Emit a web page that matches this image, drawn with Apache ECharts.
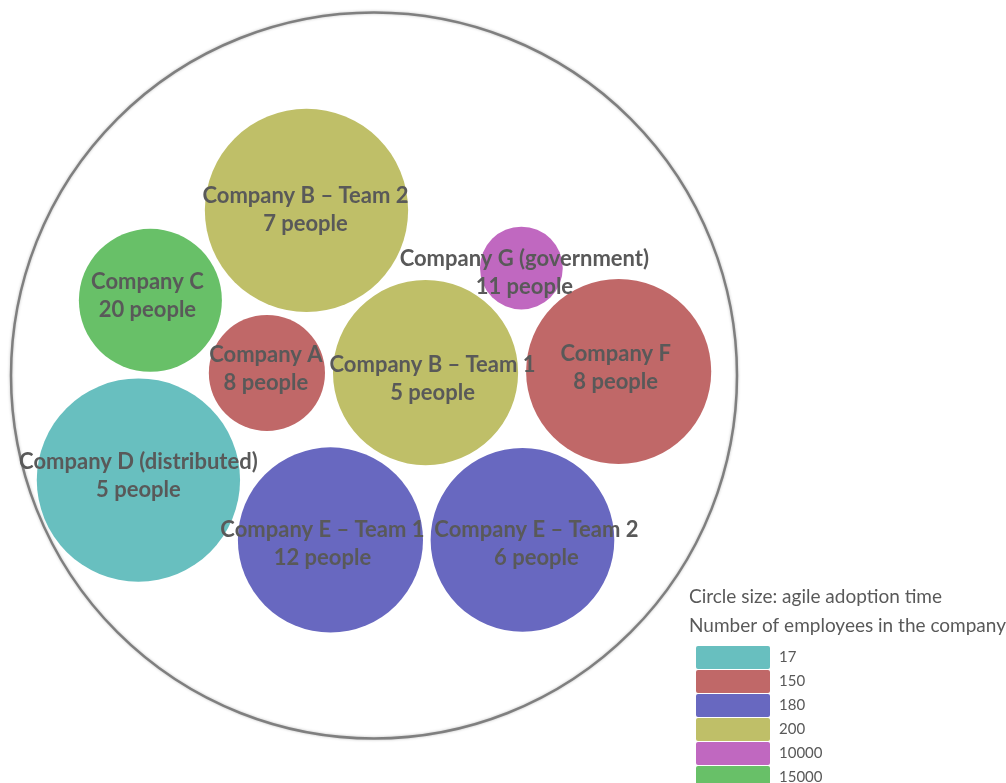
<!DOCTYPE html>
<html><head><meta charset="utf-8">
<script src="https://cdn.jsdelivr.net/npm/echarts@6/dist/echarts.min.js"></script>
<style>html,body{margin:0;padding:0;background:#fff}#c{width:1006px;height:783px}</style>
</head><body><div id="c"></div>
<script>
// ---- data ----
const companies = ['Company B – Team 2','Company C','Company G (government)','Company A','Company B – Team 1','Company F','Company D (distributed)','Company E – Team 1','Company E – Team 2'];
const teamSize = [7, 20, 11, 8, 5, 8, 5, 12, 6];
const employees = [200, 15000, 10000, 150, 200, 150, 17, 180, 180];
// circle size = agile adoption time (relative units, drawn as radius in layout units)
const adoptionTime = [28.0, 19.7, 11.4, 16.0, 25.5, 25.5, 28.0, 25.5, 25.3];
// packed-layout coordinates (enclosing circle: centre 0,0 radius 100)
const packX = [-18.6, -61.6, 40.6, -29.5, 14.2, 67.4, -64.9, -12.0, 40.9];
const packY = [45.5, 20.7, 29.6, 0.7, 0.8, 1.1, -28.8, -45.3, -45.3];
const employeeCategories = [17, 150, 180, 200, 10000, 15000];
const enclosingRadius = 100;
const sizeTitle = 'Circle size: agile adoption time';
const colorTitle = 'Number of employees in the company';

// ---- styles ----
const palette = ['#68bfbf', '#c06868', '#6868c0', '#bfbf68', '#c068c0', '#68c068'];
const labelNudge = [[-1, 0], [-3, -4], [3, 5], [-1, -4], [7, 6], [-3, -4], [0, -4], [-8, 4], [14, 4]];
const txt = '#595959';
const FONT = 'Lato, "Open Sans", sans-serif';
const legendIcon = 'path://M2,0H72A2,2 0 0 1 74,2V21A2,2 0 0 1 72,23H2A2,2 0 0 1 0,21V2A2,2 0 0 1 2,0Z';

const chart = echarts.init(document.getElementById('c'), null, {renderer: 'canvas'});

const circleSeries = employeeCategories.map((cat, ci) => ({
  type: 'custom',
  name: String(cat),
  coordinateSystem: 'cartesian2d',
  itemStyle: {color: palette[ci]},
  encode: {x: 0, y: 1},
  z: 3,
  silent: true,
  data: companies.map((c, i) => i).filter(i => employees[i] === cat)
    .map(i => [packX[i], packY[i], adoptionTime[i]]),
  renderItem: (params, api) => {
    const p = api.coord([api.value(0), api.value(1)]);
    const r = api.size([api.value(2), 0])[0];
    return {type: 'circle', shape: {cx: p[0], cy: p[1], r: r}, style: {fill: palette[ci]}};
  }
}));

const option = {
  backgroundColor: '#fff',
  animation: false,
  grid: {left: 11, top: 12.5, width: 726, height: 726},
  xAxis: {type: 'value', min: -100, max: 100, show: false},
  yAxis: {type: 'value', min: -100, max: 100, show: false},
  legend: {
    data: employeeCategories.map(String),
    orient: 'vertical', left: 696, top: 646, padding: 0, height: 300,
    itemWidth: 74, itemHeight: 23, itemGap: 1, icon: legendIcon,
    selectedMode: false,
    textStyle: {fontFamily: FONT, fontSize: 15, color: txt, padding: [0, 0, 0, 4]}
  },
  graphic: [
    {type: 'text', left: 689, top: 587, style: {text: sizeTitle, font: '19px ' + FONT, fill: txt}},
    {type: 'text', left: 689, top: 616, style: {text: colorTitle, font: '19px ' + FONT, fill: txt}}
  ],
  series: [
    {
      type: 'custom', name: 'enclosure', coordinateSystem: 'cartesian2d', silent: true, z: 2,
      data: [[0, 0, enclosingRadius]],
      renderItem: (params, api) => {
        const p = api.coord([api.value(0), api.value(1)]);
        const r = api.size([api.value(2), 0])[0];
        return {type: 'circle', shape: {cx: p[0], cy: p[1], r: r},
          style: {fill: 'none', stroke: '#7f7f7f', lineWidth: 2.5, shadowBlur: 3, shadowColor: 'rgba(0,0,0,0.25)'}};
      }
    },
    ...circleSeries,
    {
      type: 'custom', name: 'labels', coordinateSystem: 'cartesian2d', silent: true, z: 10,
      data: companies.map((c, i) => [packX[i], packY[i]]),
      renderItem: (params, api) => {
        const i = params.dataIndex;
        const p = api.coord([api.value(0), api.value(1)]);
        return {type: 'text', x: p[0] + labelNudge[i][0], y: p[1] + labelNudge[i][1], style: {
          text: companies[i] + '\n' + teamSize[i] + ' people',
          font: 'bold 22px ' + FONT, fill: txt, align: 'center', verticalAlign: 'middle', lineHeight: 28
        }};
      }
    }
  ]
};
chart.setOption(option);
</script></body></html>
